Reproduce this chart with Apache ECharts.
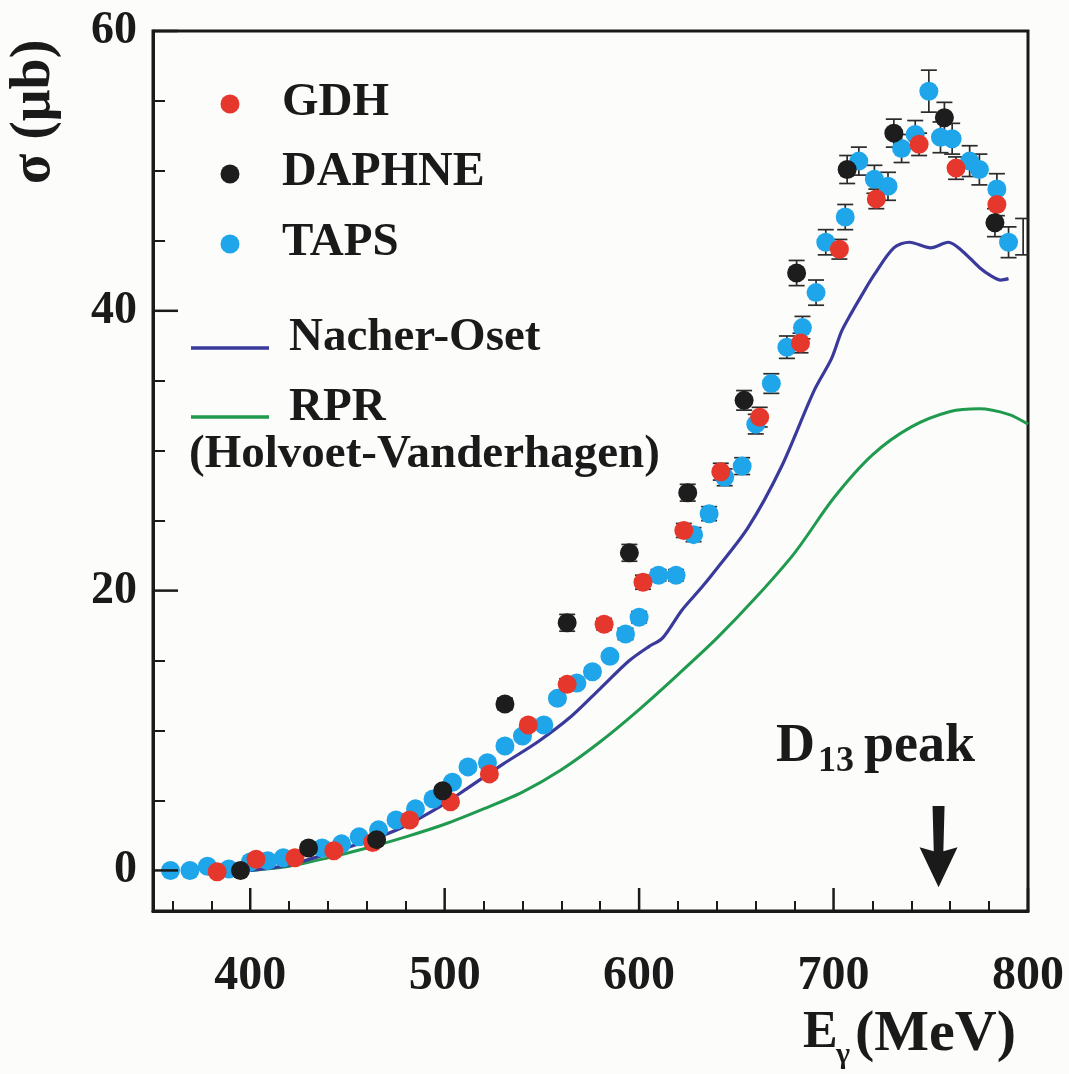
<!DOCTYPE html>
<html>
<head>
<meta charset="utf-8">
<title>Photoabsorption cross section</title>
<script src="https://cdn.jsdelivr.net/npm/echarts@6/dist/echarts.min.js"></script>
<style>
  html, body { margin: 0; padding: 0; background: #fcfcfa; }
  #chart { width: 1069px; height: 1074px; }
</style>
</head>
<body>
<div id="chart"></div>
<script>
// Photon energy (MeV) and cross section (μb) for each data set
const gdhX  = [383, 403, 423, 443, 463, 482, 503, 523, 543, 563, 582, 602, 623, 642, 662, 683, 703, 722, 744, 763, 784];
const gdhY  = [-0.1, 0.8, 0.9, 1.4, 2.0, 3.6, 4.9, 6.9, 10.4, 13.3, 17.6, 20.6, 24.3, 28.5, 32.4, 37.7, 44.4, 48.0, 51.9, 50.2, 47.6];
const gdhErr = [0.2, 0.2, 0.2, 0.2, 0.2, 0.2, 0.3, 0.3, 0.3, 0.4, 0.4, 0.5, 0.5, 0.6, 0.7, 0.7, 0.7, 0.7, 0.8, 0.8, 0.8];

const daphneX = [395, 430, 465, 499, 531, 563, 595, 625, 654, 681, 707, 731, 757, 783];
const daphneY = [0.0, 1.6, 2.2, 5.7, 11.9, 17.7, 22.7, 27.0, 33.6, 42.7, 50.1, 52.7, 53.8, 46.3];
const daphneErr = [0.2, 0.2, 0.2, 0.3, 0.4, 0.6, 0.6, 0.6, 0.7, 0.9, 1.0, 1.0, 1.1, 1.0];

const tapsX = [359, 369, 378, 389, 400, 409, 417, 437, 447, 456, 466, 475, 485, 494, 504, 512, 522, 531, 540, 551,
               558, 568, 576, 585, 593, 600, 610, 619, 628, 636, 644, 653, 660, 668, 676, 684, 691, 696, 706, 713,
               721, 728, 735, 742, 749, 755, 761, 770, 775, 784, 790];
const tapsY = [0.0, 0.0, 0.3, 0.1, 0.6, 0.7, 0.9, 1.6, 1.9, 2.4, 2.9, 3.6, 4.4, 5.1, 6.3, 7.4, 7.7, 8.9, 9.6, 10.4,
               12.3, 13.4, 14.2, 15.3, 16.9, 18.1, 21.1, 21.1, 24.0, 25.5, 28.1, 28.9, 31.9, 34.8, 37.4, 38.8, 41.3, 44.9, 46.7, 50.7,
               49.4, 48.9, 51.6, 52.6, 55.7, 52.4, 52.3, 50.7, 50.1, 48.7, 44.9];
const tapsErr = [0.2, 0.2, 0.2, 0.2, 0.2, 0.2, 0.2, 0.2, 0.2, 0.2, 0.2, 0.2, 0.2, 0.2, 0.2, 0.3, 0.3, 0.3, 0.3, 0.3,
                 0.3, 0.3, 0.3, 0.3, 0.4, 0.4, 0.4, 0.4, 0.5, 0.5, 0.6, 0.6, 0.7, 0.7, 0.8, 0.8, 0.9, 0.9, 0.9, 1.0,
                 1.0, 1.0, 1.0, 1.0, 1.5, 1.1, 1.1, 1.1, 1.1, 1.1, 1.1];

// Last TAPS bin at the upper edge of the range: only its error bar is shown
const tapsEdge = [[797.5, 45.3, 1.3]];

// Model curves
const nacherX = [400, 420, 440, 460, 477, 498, 512, 530, 548, 565, 580, 595, 605, 612, 622, 632, 639, 656, 673, 690,
                 699, 704, 709, 714, 721, 731, 739, 750, 759, 766, 775, 781, 786, 790];
const nacherY = [0, 0.4, 1.2, 2.1, 3.0, 4.6, 5.9, 7.6, 9.2, 11.0, 13.0, 15.0, 16.0, 16.6, 18.6, 20.2, 21.4, 24.5, 28.8, 34.3,
                 36.6, 38.5, 39.8, 41.0, 42.6, 44.5, 44.9, 44.5, 44.9, 44.3, 43.1, 42.5, 42.2, 42.3];

const rprX = [400, 420, 440, 460, 480, 500, 520, 540, 560, 580, 600, 620, 640, 660, 680, 700, 720, 740, 760, 775, 790, 800];
const rprY = [0, 0.3, 0.9, 1.6, 2.4, 3.3, 4.4, 5.6, 7.2, 9.2, 11.5, 14.0, 16.6, 19.5, 22.7, 26.6, 29.7, 31.7, 32.8, 33.0, 32.6, 31.9];

// D13 resonance marker: energy, arrow top, arrow tip
const d13Arrow = [[754, 4.6, -1.2]];

// Axis ranges and ticks
const X_MIN = 350, X_MAX = 800, Y_MIN = -2.9, Y_MAX = 60;
const xLabels = [400, 500, 600, 700, 800];
const xMinor = [360, 380, 420, 440, 460, 480, 520, 540, 560, 580, 620, 640, 660, 680, 720, 740, 760, 780];
const yLabels = [0, 20, 40, 60];
const yMinor = [5, 10, 15, 25, 30, 35, 45, 50, 55];

const C_GDH = '#e6372c';
const C_DAPHNE = '#1d1d1d';
const C_TAPS = '#1fa6ea';
const C_NACHER = '#3a3a9c';
const C_RPR = '#1f9a4e';
const INK = '#1a1a1a';
const FONT = '"Liberation Serif", "Times New Roman", serif';

const zip = (xs, ys) => xs.map((x, i) => [x, ys[i]]);
const zip3 = (xs, ys, es) => xs.map((x, i) => [x, ys[i], es[i]]);

const errorData = []
  .concat(zip3(tapsX, tapsY, tapsErr))
  .concat(zip3(gdhX, gdhY, gdhErr))
  .concat(zip3(daphneX, daphneY, daphneErr))
  .concat(tapsEdge);

function renderErrorBar(params, api) {
  const x = api.value(0), y = api.value(1), e = api.value(2);
  const top = api.coord([x, y + e]);
  const bot = api.coord([x, y - e]);
  const hw = 8;
  const st = { stroke: '#2b2b2b', lineWidth: 1.7 };
  return {
    type: 'group',
    children: [
      { type: 'line', shape: { x1: top[0], y1: top[1], x2: bot[0], y2: bot[1] }, style: st },
      { type: 'line', shape: { x1: top[0] - hw, y1: top[1], x2: top[0] + hw, y2: top[1] }, style: st },
      { type: 'line', shape: { x1: bot[0] - hw, y1: bot[1], x2: bot[0] + hw, y2: bot[1] }, style: st }
    ]
  };
}

function renderArrow(params, api) {
  const x = api.value(0);
  const top = api.coord([x, api.value(1)]);
  const tip = api.coord([x, api.value(2)]);
  const cx = top[0];
  const shaft = 6, head = 19, headH = 36;
  const neck = tip[1] - headH;
  return {
    type: 'polygon',
    shape: {
      points: [
        [cx - shaft, top[1]], [cx + shaft, top[1]], [cx + shaft * 0.8, neck],
        [cx + head, neck - 4], [cx, tip[1]], [cx - head, neck - 4], [cx - shaft * 0.8, neck]
      ]
    },
    style: { fill: INK }
  };
}

const hidden = { show: false };

const txt = (text, left, top, size, extra) => Object.assign({
  type: 'text', left: left, top: top,
  style: { text: text, font: 'bold ' + size + 'px ' + FONT, fill: INK, verticalAlign: 'middle' }
}, extra || {});

const option = {
  backgroundColor: '#fcfcfa',
  animation: false,
  grid: {
    left: 153, right: 41, top: 31, bottom: 163,
    show: true, borderColor: INK, borderWidth: 3, backgroundColor: 'transparent'
  },
  xAxis: {
    type: 'value', min: X_MIN, max: X_MAX,
    axisLine: { show: true, onZero: false, lineStyle: { color: INK, width: 3 } },
    axisTick: { show: true, inside: true, length: 10, customValues: xMinor, lineStyle: { color: INK, width: 2 } },
    axisLabel: { show: true, customValues: xLabels, margin: 42, fontSize: 48, fontWeight: 'bold', fontFamily: FONT, color: INK },
    splitLine: hidden
  },
  yAxis: {
    type: 'value', min: Y_MIN, max: Y_MAX,
    axisLine: { show: true, onZero: false, lineStyle: { color: INK, width: 3 } },
    axisTick: { show: true, inside: true, length: 12, customValues: yMinor, lineStyle: { color: INK, width: 2 } },
    axisLabel: { show: true, customValues: yLabels, margin: 16, fontSize: 46, fontWeight: 'bold', fontFamily: FONT, color: INK },
    splitLine: hidden
  },
  series: [
    {
      name: 'RPR (Holvoet-Vanderhagen)', type: 'line', data: zip(rprX, rprY),
      showSymbol: false, smooth: 0.3, lineStyle: { color: C_RPR, width: 3 }, z: 2
    },
    {
      name: 'Nacher-Oset', type: 'line', data: zip(nacherX, nacherY),
      showSymbol: false, smooth: 0.3, lineStyle: { color: C_NACHER, width: 3.2 }, z: 2
    },
    {
      name: 'errors', type: 'custom', renderItem: renderErrorBar, data: errorData,
      encode: { x: 0, y: 1 }, clip: true, z: 3, silent: true
    },
    {
      name: 'TAPS', type: 'scatter', data: zip(tapsX, tapsY), symbolSize: 19,
      itemStyle: { color: C_TAPS, opacity: 1 }, z: 4
    },
    {
      name: 'GDH', type: 'scatter', data: zip(gdhX, gdhY), symbolSize: 19,
      itemStyle: { color: C_GDH, opacity: 1 }, z: 5
    },
    {
      name: 'DAPHNE', type: 'scatter', data: zip(daphneX, daphneY), symbolSize: 19,
      itemStyle: { color: C_DAPHNE, opacity: 1 }, z: 6
    },
    {
      name: 'D13 peak', type: 'custom', renderItem: renderArrow, data: d13Arrow,
      encode: { x: 0, y: [1, 2] }, z: 6, silent: true
    }
  ],
  graphic: [
    // legend
    { type: 'circle', shape: { cx: 230, cy: 104, r: 9.5 }, style: { fill: C_GDH } },
    { type: 'circle', shape: { cx: 230, cy: 174, r: 9.5 }, style: { fill: C_DAPHNE } },
    { type: 'circle', shape: { cx: 230, cy: 244, r: 9.5 }, style: { fill: C_TAPS } },
    txt('GDH', 282, 79, 47),
    txt('DAPHNE', 282, 149, 48),
    txt('TAPS', 282, 219, 47),
    { type: 'line', shape: { x1: 191, y1: 348, x2: 269, y2: 348 }, style: { stroke: C_NACHER, lineWidth: 3.5 } },
    { type: 'line', shape: { x1: 191, y1: 417, x2: 269, y2: 417 }, style: { stroke: C_RPR, lineWidth: 3.5 } },
    txt('Nacher-Oset', 289, 314, 47),
    txt('RPR', 289, 384, 47),
    txt('(Holvoet-Vanderhagen)', 189, 431, 47),
    // resonance label
    txt('D', 776, 720, 54),
    txt('13', 818, 744, 36),
    txt('peak', 864, 720, 54),
    // axis titles
    {
      type: 'text', x: 35, y: 112, rotation: Math.PI / 2,
      style: { text: 'σ (μb)', font: 'bold 56px ' + FONT, fill: INK, align: 'center', verticalAlign: 'middle' }
    },
    txt('E', 803, 1008, 52),
    txt('γ', 836, 1040, 30),
    txt('(MeV)', 855, 1006, 58)
  ]
};

const chart = echarts.init(document.getElementById('chart'), null, { renderer: 'canvas' });
chart.setOption(option);

// Long inward ticks at the labelled values, located through the axis scales
const majorTicks = [];
xLabels.forEach(v => {
  const p = chart.convertToPixel({ gridIndex: 0 }, [v, Y_MIN]);
  majorTicks.push({ type: 'line', z: 50, shape: { x1: p[0], y1: p[1], x2: p[0], y2: p[1] - 23 }, style: { stroke: INK, lineWidth: 2.5 } });
});
yLabels.forEach(v => {
  const p = chart.convertToPixel({ gridIndex: 0 }, [X_MIN, v]);
  majorTicks.push({ type: 'line', z: 50, shape: { x1: p[0], y1: p[1], x2: p[0] + 25, y2: p[1] }, style: { stroke: INK, lineWidth: 2.5 } });
});
chart.setOption({ graphic: option.graphic.concat(majorTicks) });
</script>
</body>
</html>
